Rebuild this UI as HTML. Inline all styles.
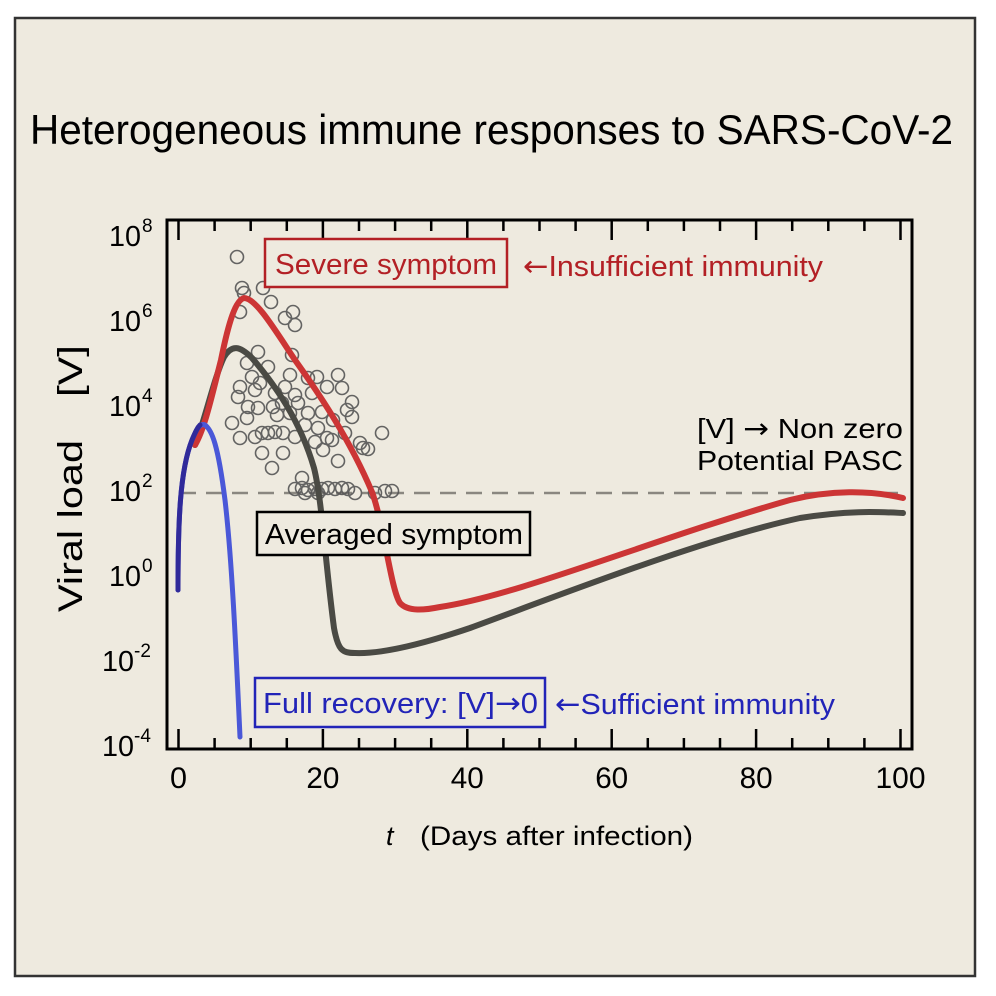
<!DOCTYPE html>
<html><head><meta charset="utf-8"><style>html,body{margin:0;padding:0;background:#fff}svg{display:block}text{font-family:"Liberation Sans",sans-serif}.ar{font-family:"DejaVu Sans",sans-serif}</style></head><body>
<svg width="996" height="996" viewBox="0 0 996 996" xmlns="http://www.w3.org/2000/svg">
<rect x="0" y="0" width="996" height="996" fill="#fff"/>
<rect x="15" y="18" width="960" height="958" fill="#eeeadf" stroke="#333" stroke-width="2.5"/>
<text x="30" y="144" font-size="42" textLength="923" lengthAdjust="spacingAndGlyphs" fill="#000">Heterogeneous immune responses to SARS-CoV-2</text>
<rect x="167" y="220" width="745" height="529" fill="none" stroke="#000" stroke-width="3"/>
<g stroke="#000" stroke-width="2.5">
<path d="M178.5,749v-20M214.6,749v-11M250.7,749v-11M286.8,749v-11M322.9,749v-20M359,749v-11M395.1,749v-11M431.2,749v-11M467.3,749v-20M503.4,749v-11M539.5,749v-11M575.6,749v-11M611.7,749v-20M647.8,749v-11M683.9,749v-11M720,749v-11M756.1,749v-20M792.2,749v-11M828.3,749v-11M864.4,749v-11M900.5,749v-20"/>
<path d="M178.5,220v20M214.6,220v11M250.7,220v11M286.8,220v11M322.9,220v20M359,220v11M395.1,220v11M431.2,220v11M467.3,220v20M503.4,220v11M539.5,220v11M575.6,220v11M611.7,220v20M647.8,220v11M683.9,220v11M720,220v11M756.1,220v20M792.2,220v11M828.3,220v11M864.4,220v11M900.5,220v20"/>
</g>
<g font-size="30" text-anchor="middle" fill="#000">
<text x="178.5" y="788" textLength="17" lengthAdjust="spacingAndGlyphs">0</text>
<text x="322.9" y="788" textLength="33" lengthAdjust="spacingAndGlyphs">20</text>
<text x="467.3" y="788" textLength="33" lengthAdjust="spacingAndGlyphs">40</text>
<text x="611.7" y="788" textLength="33" lengthAdjust="spacingAndGlyphs">60</text>
<text x="756.1" y="788" textLength="33" lengthAdjust="spacingAndGlyphs">80</text>
<text x="900.5" y="788" textLength="50" lengthAdjust="spacingAndGlyphs">100</text>
</g>
<g font-size="29" fill="#000">
<text x="109" y="246" textLength="32" lengthAdjust="spacingAndGlyphs">10</text><text x="142" y="232" font-size="19">8</text>
<text x="109" y="331" textLength="32" lengthAdjust="spacingAndGlyphs">10</text><text x="142" y="317" font-size="19">6</text>
<text x="109" y="416" textLength="32" lengthAdjust="spacingAndGlyphs">10</text><text x="142" y="402" font-size="19">4</text>
<text x="109" y="501" textLength="32" lengthAdjust="spacingAndGlyphs">10</text><text x="142" y="487" font-size="19">2</text>
<text x="109" y="586" textLength="32" lengthAdjust="spacingAndGlyphs">10</text><text x="142" y="572" font-size="19">0</text>
<text x="102" y="671" textLength="32" lengthAdjust="spacingAndGlyphs">10</text><text x="134" y="657" font-size="19">-2</text>
<text x="102" y="756" textLength="32" lengthAdjust="spacingAndGlyphs">10</text><text x="134" y="742" font-size="19">-4</text>
</g>
<g transform="translate(82,0) rotate(-90)" font-size="34" fill="#000">
<text x="-612" y="0" textLength="172" lengthAdjust="spacingAndGlyphs">Viral load</text>
<text x="-397" y="0" textLength="52" lengthAdjust="spacingAndGlyphs">[V]</text>
</g>
<text x="386" y="845" font-size="27" fill="#000" font-style="italic">t</text>
<text x="420" y="845" font-size="27" fill="#000" textLength="273" lengthAdjust="spacingAndGlyphs">(Days after infection)</text>
<line x1="180" y1="493" x2="905" y2="493" stroke="#8a8780" stroke-width="2.5" stroke-dasharray="16,10"/>
<g fill="none" stroke="#555" stroke-width="1.6" opacity="0.9">
<circle cx="237" cy="257" r="6.5"/><circle cx="242" cy="288" r="6.5"/><circle cx="244" cy="293" r="6.5"/><circle cx="263" cy="288" r="6.5"/><circle cx="271" cy="302" r="6.5"/><circle cx="240" cy="312" r="6.5"/><circle cx="293" cy="312" r="6.5"/><circle cx="285" cy="318" r="6.5"/><circle cx="295" cy="325" r="6.5"/><circle cx="258" cy="352" r="6.5"/><circle cx="292" cy="355" r="6.5"/><circle cx="247" cy="363" r="6.5"/><circle cx="268" cy="367" r="6.5"/><circle cx="290" cy="375" r="6.5"/><circle cx="252" cy="377" r="6.5"/><circle cx="308" cy="378" r="6.5"/><circle cx="317" cy="377" r="6.5"/><circle cx="338" cy="375" r="6.5"/><circle cx="240" cy="387" r="6.5"/><circle cx="260" cy="383" r="6.5"/><circle cx="285" cy="387" r="6.5"/><circle cx="327" cy="387" r="6.5"/><circle cx="342" cy="388" r="6.5"/><circle cx="238" cy="397" r="6.5"/><circle cx="255" cy="390" r="6.5"/><circle cx="275" cy="393" r="6.5"/><circle cx="295" cy="395" r="6.5"/><circle cx="312" cy="393" r="6.5"/><circle cx="248" cy="407" r="6.5"/><circle cx="258" cy="408" r="6.5"/><circle cx="273" cy="407" r="6.5"/><circle cx="282" cy="403" r="6.5"/><circle cx="298" cy="403" r="6.5"/><circle cx="322" cy="412" r="6.5"/><circle cx="352" cy="402" r="6.5"/><circle cx="347" cy="410" r="6.5"/><circle cx="247" cy="418" r="6.5"/><circle cx="232" cy="423" r="6.5"/><circle cx="277" cy="415" r="6.5"/><circle cx="290" cy="413" r="6.5"/><circle cx="308" cy="413" r="6.5"/><circle cx="333" cy="420" r="6.5"/><circle cx="352" cy="417" r="6.5"/><circle cx="262" cy="433" r="6.5"/><circle cx="268" cy="433" r="6.5"/><circle cx="275" cy="432" r="6.5"/><circle cx="283" cy="433" r="6.5"/><circle cx="295" cy="437" r="6.5"/><circle cx="240" cy="438" r="6.5"/><circle cx="255" cy="437" r="6.5"/><circle cx="305" cy="425" r="6.5"/><circle cx="318" cy="428" r="6.5"/><circle cx="327" cy="438" r="6.5"/><circle cx="332" cy="440" r="6.5"/><circle cx="345" cy="433" r="6.5"/><circle cx="382" cy="433" r="6.5"/><circle cx="315" cy="442" r="6.5"/><circle cx="323" cy="450" r="6.5"/><circle cx="360" cy="443" r="6.5"/><circle cx="368" cy="449" r="6.5"/><circle cx="363" cy="448" r="6.5"/><circle cx="262" cy="453" r="6.5"/><circle cx="283" cy="453" r="6.5"/><circle cx="338" cy="461" r="6.5"/><circle cx="272" cy="468" r="6.5"/><circle cx="302" cy="478" r="6.5"/><circle cx="295" cy="489" r="6.5"/><circle cx="302" cy="488" r="6.5"/><circle cx="308" cy="490" r="6.5"/><circle cx="315" cy="489" r="6.5"/><circle cx="322" cy="489" r="6.5"/><circle cx="328" cy="488" r="6.5"/><circle cx="335" cy="489" r="6.5"/><circle cx="342" cy="488" r="6.5"/><circle cx="348" cy="489" r="6.5"/><circle cx="355" cy="493" r="6.5"/><circle cx="375" cy="493" r="6.5"/><circle cx="385" cy="491" r="6.5"/><circle cx="392" cy="491" r="6.5"/><circle cx="305" cy="493" r="6.5"/><circle cx="318" cy="493" r="6.5"/>
</g>
<g fill="none" stroke-linecap="round" stroke-linejoin="round">
<path d="M195,445 C205,420 214,378 224,357 C232,344 240,346 252,358 C275,385 300,420 314,468 C322,500 325,560 334,628 C338,650 342,653 355,653 C380,654 420,645 470,628 C560,595 700,540 800,518 C850,510 880,512 903,513" stroke="#4a4a44" stroke-width="6"/>
<path d="M195,445 C205,428 212,395 221,360 C229,320 236,300 244,298 C256,298 275,330 295,360 C320,395 350,440 372,492 C384,525 391,590 400,603 C408,612 425,610 440,607 C520,595 650,540 790,500 C830,490 870,490 903,498" stroke="#cc3535" stroke-width="6"/>
<path d="M178,590 C178,520 180,470 192,440 C197,428 200,423 205,425 C212,430 218,445 225,500 C232,560 236,650 240,737" stroke="#4a58d8" stroke-width="5"/>
<path d="M178,590 C178,520 180,470 192,440 C195,433 197,428 200,425" stroke="#302a9a" stroke-width="5"/>
</g>
<rect x="265" y="239" width="242" height="48" fill="#eeeadf" stroke="#b32025" stroke-width="2.5"/>
<text x="275" y="274" font-size="29" fill="#b32025" textLength="222" lengthAdjust="spacingAndGlyphs">Severe symptom</text>
<text x="523" y="276" font-size="29" fill="#b32025" textLength="300" lengthAdjust="spacingAndGlyphs"><tspan class="ar">←</tspan>Insufficient immunity</text>
<rect x="257" y="512" width="273" height="43" fill="#eeeadf" stroke="#000" stroke-width="2.5"/>
<text x="265" y="544" font-size="29" fill="#000" textLength="258" lengthAdjust="spacingAndGlyphs">Averaged symptom</text>
<rect x="255" y="678" width="290" height="49" fill="#eeeadf" stroke="#2224b8" stroke-width="2.5"/>
<text x="263" y="713" font-size="29" fill="#2224b8" textLength="275" lengthAdjust="spacingAndGlyphs">Full recovery: [V]<tspan class="ar">→</tspan>0</text>
<text x="555" y="714" font-size="29" fill="#2224b8" textLength="280" lengthAdjust="spacingAndGlyphs"><tspan class="ar">←</tspan>Sufficient immunity</text>
<text x="903" y="438" font-size="28" fill="#000" text-anchor="end" textLength="206" lengthAdjust="spacingAndGlyphs">[V] <tspan class="ar">→</tspan> Non zero</text>
<text x="903" y="470" font-size="28" fill="#000" text-anchor="end" textLength="206" lengthAdjust="spacingAndGlyphs">Potential PASC</text>
</svg>
</body></html>
